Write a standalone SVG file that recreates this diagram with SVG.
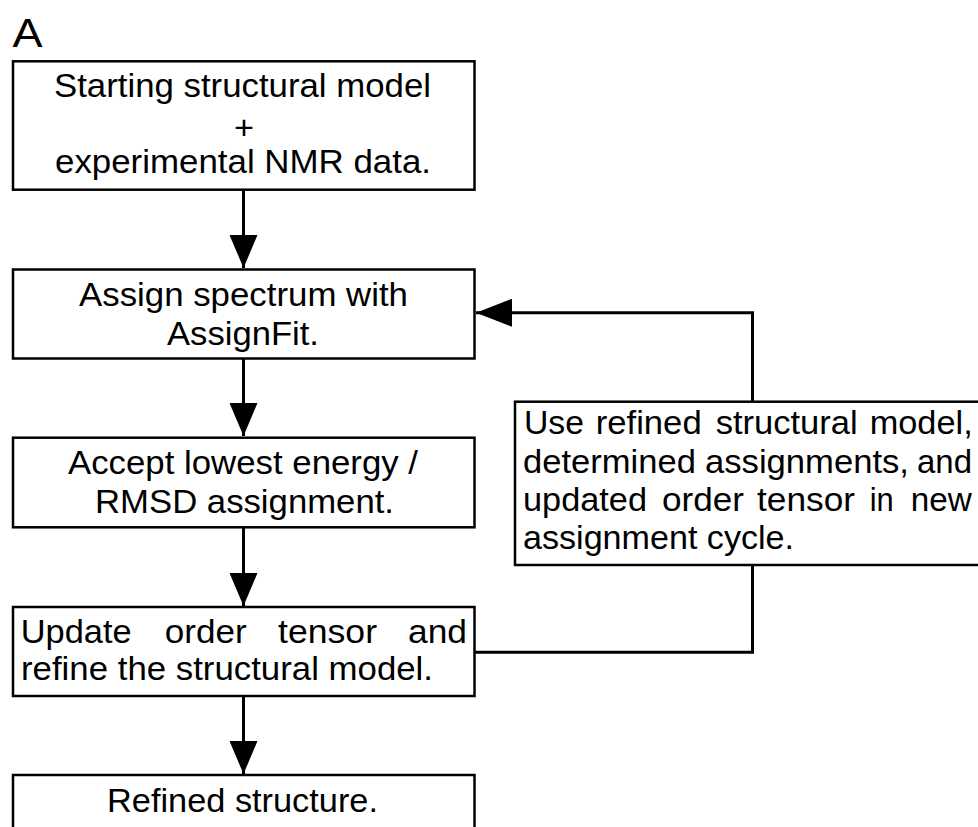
<svg xmlns="http://www.w3.org/2000/svg" width="978" height="827" viewBox="0 0 978 827">
<style>
.box{fill:#fff;stroke:#000;stroke-width:2.5}
.t{font-family:"Liberation Sans",Arial,sans-serif;font-size:32.5px;fill:#000}
.lab{font-family:"Liberation Sans",Arial,sans-serif;font-size:41px;fill:#000}
.c{fill:none;stroke:#000;stroke-width:3}
.h{fill:#000;stroke:none}
</style>
<defs>
<marker id="ah" markerUnits="userSpaceOnUse" markerWidth="34" markerHeight="28" refX="33" refY="14" orient="auto">
<polygon points="0,0 33,14 0,28" class="h"/>
</marker>
<marker id="ahl" markerUnits="userSpaceOnUse" markerWidth="36" markerHeight="28" refX="36" refY="14" orient="auto">
<polygon points="0,0 36,14 0,28" class="h"/>
</marker>
</defs>
<rect width="978" height="827" fill="#fff"/>
<text class="lab" x="12.5" y="46.7" textLength="30" lengthAdjust="spacingAndGlyphs">A</text>

<g id="connectors">
<path class="c" d="M243.5,190 V268" marker-end="url(#ah)"/>
<path class="c" d="M243.5,359 V436" marker-end="url(#ah)"/>
<path class="c" d="M243.5,527 V606" marker-end="url(#ah)"/>
<path class="c" d="M243.5,696 V774" marker-end="url(#ah)"/>
<path class="c" d="M475,652.3 H752.5 V565"/>
<path class="c" d="M752.5,402 V312.7 H476" marker-end="url(#ahl)"/>
</g>

<g id="start">
<rect class="box" x="13" y="61.3" width="461.5" height="128.4"/>
<text class="t" x="54" y="97" textLength="377" lengthAdjust="spacingAndGlyphs">Starting structural model</text>
<text class="t" x="234" y="139" textLength="20" lengthAdjust="spacingAndGlyphs">+</text>
<text class="t" x="55" y="173" textLength="376" lengthAdjust="spacingAndGlyphs">experimental NMR data.</text>
</g>

<g id="assign">
<rect class="box" x="13" y="269.5" width="461.5" height="89"/>
<text class="t" x="79" y="306" textLength="329" lengthAdjust="spacingAndGlyphs">Assign spectrum with</text>
<text class="t" x="167" y="345" textLength="152" lengthAdjust="spacingAndGlyphs">AssignFit.</text>
</g>

<g id="accept">
<rect class="box" x="13" y="437.7" width="461.5" height="89.6"/>
<text class="t" x="68" y="474" textLength="350" lengthAdjust="spacingAndGlyphs">Accept lowest energy /</text>
<text class="t" x="95" y="512.7" textLength="299" lengthAdjust="spacingAndGlyphs">RMSD assignment.</text>
</g>

<g id="update">
<rect class="box" x="13" y="607" width="461.5" height="89"/>
<text class="t" x="20.7" y="642.7" textLength="111" lengthAdjust="spacingAndGlyphs">Update</text>
<text class="t" x="164.7" y="642.7" textLength="82" lengthAdjust="spacingAndGlyphs">order</text>
<text class="t" x="278" y="642.7" textLength="99" lengthAdjust="spacingAndGlyphs">tensor</text>
<text class="t" x="408" y="642.7" textLength="59" lengthAdjust="spacingAndGlyphs">and</text>
<text class="t" x="21" y="680" textLength="412" lengthAdjust="spacingAndGlyphs">refine the structural model.</text>
</g>

<g id="refined">
<rect class="box" x="13" y="775" width="461.5" height="90"/>
<text class="t" x="107" y="811.7" textLength="271" lengthAdjust="spacingAndGlyphs">Refined structure.</text>
</g>

<g id="reuse">
<rect class="box" x="515" y="401.7" width="480" height="163.3"/>
<text class="t" x="524" y="434" textLength="60" lengthAdjust="spacingAndGlyphs">Use</text>
<text class="t" x="595.7" y="434" textLength="106" lengthAdjust="spacingAndGlyphs">refined</text>
<text class="t" x="715.7" y="434" textLength="142" lengthAdjust="spacingAndGlyphs">structural</text>
<text class="t" x="869.7" y="434" textLength="103" lengthAdjust="spacingAndGlyphs">model,</text>
<text class="t" x="523" y="472.7" textLength="173" lengthAdjust="spacingAndGlyphs">determined</text>
<text class="t" x="705" y="472.7" textLength="204" lengthAdjust="spacingAndGlyphs">assignments,</text>
<text class="t" x="917" y="472.7" textLength="55" lengthAdjust="spacingAndGlyphs">and</text>
<text class="t" x="523" y="510.7" textLength="124" lengthAdjust="spacingAndGlyphs">updated</text>
<text class="t" x="662" y="510.7" textLength="82" lengthAdjust="spacingAndGlyphs">order</text>
<text class="t" x="757" y="510.7" textLength="98" lengthAdjust="spacingAndGlyphs">tensor</text>
<text class="t" x="869.7" y="510.7" textLength="24" lengthAdjust="spacingAndGlyphs">in</text>
<text class="t" x="910.7" y="510.7" textLength="61" lengthAdjust="spacingAndGlyphs">new</text>
<text class="t" x="523" y="549" textLength="271" lengthAdjust="spacingAndGlyphs">assignment cycle.</text>
</g>
</svg>
